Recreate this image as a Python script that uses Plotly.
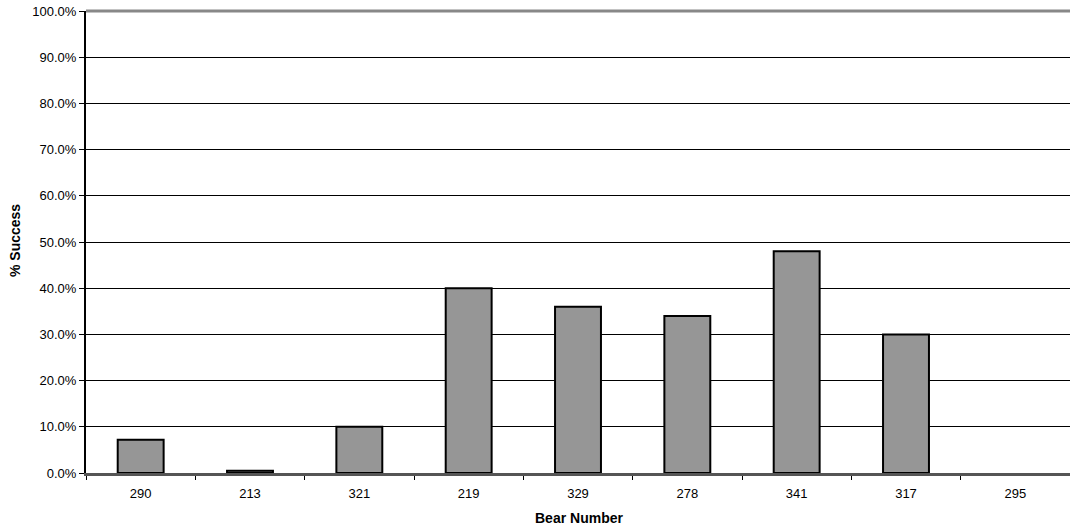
import plotly.graph_objects as go

bears = ["290", "213", "321", "219", "329", "278", "341", "317", "295"]
success = [0.072, 0.005, 0.10, 0.40, 0.36, 0.34, 0.48, 0.30, 0.0]
y_ticks = [i / 10 for i in range(11)]
y_tick_labels = [f"{v*100:.1f}%" for v in y_ticks]

outline_widths = [2 if v > 0 else 0 for v in success]

fig = go.Figure(go.Bar(
    x=bears, y=success,
    marker=dict(color="#969696", line=dict(color="black", width=outline_widths)),
    width=0.42,
))

fig.update_layout(
    width=1070, height=531,
    margin=dict(l=86, r=0, t=11, b=58, autoexpand=False),
    paper_bgcolor="white", plot_bgcolor="white",
    font=dict(family="Liberation Sans, Arial, sans-serif", size=13, color="black"),
    showlegend=False,
    xaxis=dict(
        type="category",
        showline=True, linecolor="#555555", linewidth=3,
        ticks="outside", tickson="boundaries", ticklen=4, tickcolor="black",
        ticklabelstandoff=6,
        showgrid=False,
    ),
    yaxis=dict(
        range=[0, 1],
        tickvals=y_ticks, ticktext=y_tick_labels,
        showline=True, linecolor="black", linewidth=2,
        ticks="outside", ticklen=5, tickcolor="black",
        ticklabeloverflow="allow",
        showgrid=True, gridcolor="black", gridwidth=1,
        zeroline=False,
    ),
    annotations=[
        dict(text="<b>Bear Number</b>", xref="paper", yref="paper",
             x=(579 - 86) / 984, y=-(518 - 473) / 462,
             xanchor="center", yanchor="middle", showarrow=False,
             font=dict(size=14)),
        dict(text="<b>% Success</b>", xref="paper", yref="paper",
             x=(15 - 86) / 984, y=(473 - 241) / 462, textangle=-90,
             xanchor="center", yanchor="middle", showarrow=False,
             font=dict(size=14)),
    ],
)

fig.add_shape(type="line", xref="paper", yref="paper", x0=0, x1=1, y0=1, y1=1,
              layer="above", line=dict(color="#888888", width=3))

fig.write_html("out.html",
               config={"displayModeBar": False},
               post_script="document.body.style.margin='0';document.body.style.overflow='hidden';")
